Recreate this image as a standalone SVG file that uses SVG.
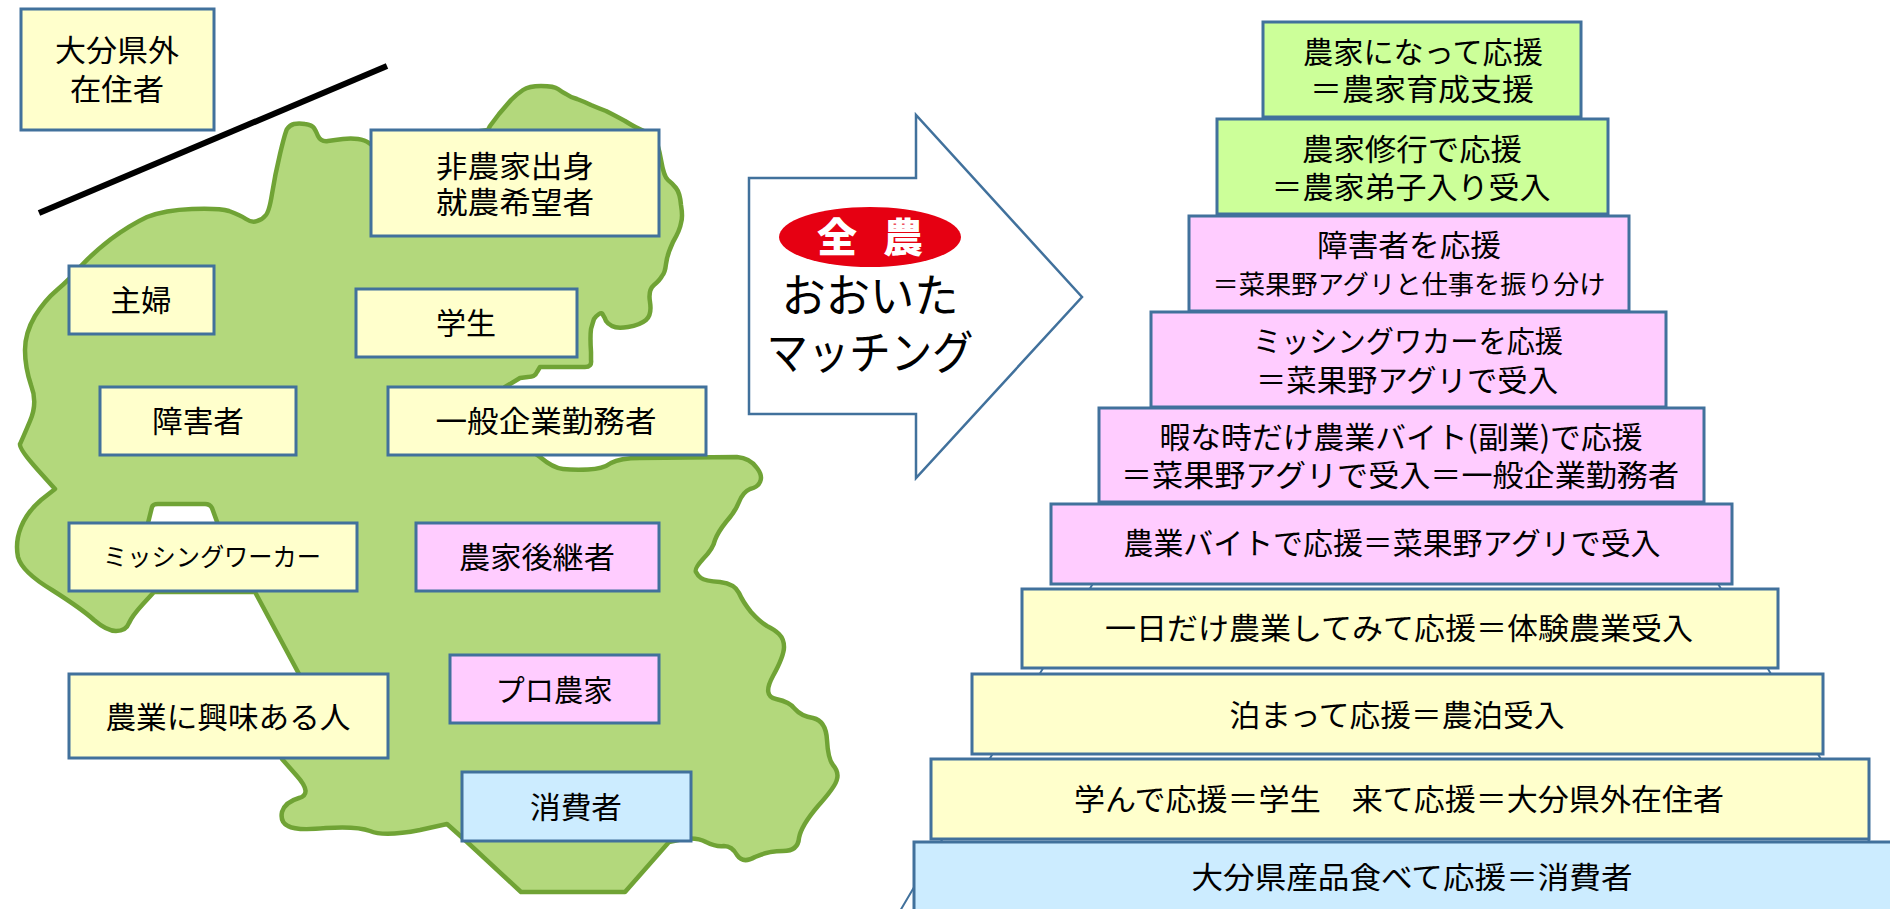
<svg xmlns="http://www.w3.org/2000/svg" width="1890" height="909" viewBox="0 0 1890 909">
<style>
.b{stroke:#41719c;stroke-width:3}
.y{fill:#ffffcc}.p{fill:#ffccff}.c{fill:#ccecff}.g{fill:#ccff99}
text{font-family:"Noto Sans CJK JP","Liberation Sans",sans-serif;font-size:30px;fill:#000;text-anchor:middle}
.w{fill:#fff;font-size:40px;font-weight:900}
.l{font-size:46px}
.m{fill:#b3d87c;stroke:#6fa336;stroke-width:4.5;stroke-linejoin:round;fill-rule:evenodd}
</style>
<defs><filter id="soft" x="-2%" y="-2%" width="104%" height="104%"><feGaussianBlur stdDeviation="0.7"/></filter></defs>
<rect width="1890" height="909" fill="#fff"/>
<path id="map" class="m" filter="url(#soft)" d="M294 124Q299 123 305 124Q312 125 314 128Q316 131 318 136Q321 142 328 141Q335 140 343 139Q351 138 358 139Q365 140 369 143L373 146L488 130L490 126Q493 122 499 114Q505 107 511 100Q517 94 523 90Q529 86 541 86Q554 86 558 89Q562 92 566 94Q570 97 577 99Q585 102 591 105Q598 108 606 111Q614 115 625 121Q636 128 644 131Q652 135 655 139Q658 143 661 160Q664 177 668 180Q672 183 676 188Q680 193 681 205Q683 217 681 223Q680 230 673 242Q667 255 666 264Q665 273 662 276Q660 280 654 285Q648 290 650 302Q652 315 646 320Q640 325 628 327Q617 329 612 326Q608 324 606 321Q605 318 603 315Q602 312 599 314Q596 316 594 319Q593 322 591 329Q590 337 591 352L591 360Q592 367 585 367L540 367L537 372Q535 377 528 377L520 378L505 387L530 450L540 457Q553 468 563 469Q573 470 588 469.5Q603 469 611 463Q620 458 640 458L737 457Q750 458 757 468Q763 476 760 482Q758 487 750 489Q743 492 739 502Q735 512 726 522Q718 532 715 540Q713 549 703 559Q694 569 696 572Q698 576 701 578Q705 581 720 582Q735 584 739 593Q743 602 751 612Q760 622 767 626Q775 630 779 634Q784 639 784 647Q784 656 773 676Q762 696 776 699Q790 702 795 709Q801 716 813 718Q826 721 827 740Q828 759 833 765Q839 772 837 779Q836 786 818 806Q801 826 799 838Q798 851 783 851Q768 851 755 857Q743 864 737 855Q732 846 724 846Q716 847 706 842Q697 837 683 839L669 842L625 892L521 892L466 841L447 824L420 830Q384 837 370 831Q357 826 326 828Q296 831 288 826Q280 822 282 812Q285 802 299 798Q313 794 297 776L282 759L299 674L255 592L154 592L143 604Q132 616 129 623Q126 631 116 631Q107 631 94 620Q82 609 52 590Q22 572 18 557Q15 542 21 527Q27 512 41 500L55 489L37 469Q19 449 20 444Q22 440 30 421Q38 403 31 385Q25 367 25 350Q25 333 35 316Q45 300 57 290Q69 280 81 266Q93 253 111 239Q130 225 147 217Q165 210 192 209Q219 208 229 211Q240 215 246 219Q252 223 257 221Q262 220 265 216Q269 213 272 194Q275 175 280 154Q285 133 287 129Q290 125 294 124Z M148 523L152 507Q153 504 158 504L205 504Q210 504 212 508L220 530Z"/>
<g id="connectors">
<line x1="39" y1="213" x2="387" y2="66" stroke="#000" stroke-width="6"/>
<polygon id="pyramid-outline" points="1406,52 880,945 1930,945" fill="#fff" stroke="#41719c" stroke-width="2"/>
</g>
<g id="arrow">
<polygon points="749,178 916,178 916,115 1082,297 916,478 916,414 749,414" fill="#fff" stroke="#41719c" stroke-width="2.5"/>
<ellipse cx="870" cy="237" rx="91" ry="30" fill="#e60012"/>
<text class="w" x="837" y="252">全</text>
<text class="w" x="903" y="252">農</text>
<text class="l" x="870" y="312" textLength="177" lengthAdjust="spacingAndGlyphs">おおいた</text>
<text class="l" x="870" y="369" textLength="207" lengthAdjust="spacingAndGlyphs">マッチング</text>
</g>
<g id="n-kengai"><rect class="b y" x="21" y="9" width="193" height="121"/><text x="117" y="61" textLength="124" lengthAdjust="spacingAndGlyphs">大分県外</text><text x="117" y="100" textLength="94" lengthAdjust="spacingAndGlyphs">在住者</text></g>
<g id="n-hinouka"><rect class="b y" x="371" y="130" width="288" height="106"/><text x="515" y="177" textLength="158" lengthAdjust="spacingAndGlyphs">非農家出身</text><text x="515" y="213" textLength="158" lengthAdjust="spacingAndGlyphs">就農希望者</text></g>
<g id="n-shufu"><rect class="b y" x="69" y="266" width="145" height="68"/><text x="141" y="311" textLength="61" lengthAdjust="spacingAndGlyphs">主婦</text></g>
<g id="n-gakusei"><rect class="b y" x="356" y="289" width="221" height="68"/><text x="466" y="334" textLength="60" lengthAdjust="spacingAndGlyphs">学生</text></g>
<g id="n-shogai"><rect class="b y" x="100" y="387" width="196" height="68"/><text x="198" y="432" textLength="92" lengthAdjust="spacingAndGlyphs">障害者</text></g>
<g id="n-kigyo"><rect class="b y" x="388" y="387" width="318" height="68"/><text x="546" y="432" textLength="221" lengthAdjust="spacingAndGlyphs">一般企業勤務者</text></g>
<g id="n-missing"><rect class="b y" x="69" y="523" width="288" height="68"/><text x="212" y="566" style="font-size:25px" textLength="218" lengthAdjust="spacingAndGlyphs">ミッシングワーカー</text></g>
<g id="n-kokeisha"><rect class="b p" x="416" y="523" width="243" height="68"/><text x="537" y="568" textLength="156" lengthAdjust="spacingAndGlyphs">農家後継者</text></g>
<g id="n-pro"><rect class="b p" x="450" y="655" width="209" height="68"/><text x="554" y="701" textLength="117" lengthAdjust="spacingAndGlyphs">プロ農家</text></g>
<g id="n-kyomi"><rect class="b y" x="69" y="674" width="319" height="84"/><text x="228" y="728" textLength="245" lengthAdjust="spacingAndGlyphs">農業に興味ある人</text></g>
<g id="n-shohisha"><rect class="b c" x="462" y="772" width="229" height="69"/><text x="576" y="818" textLength="92" lengthAdjust="spacingAndGlyphs">消費者</text></g>
<g id="p-ikusei"><rect class="b g" x="1263" y="22" width="318" height="95"/><text x="1423" y="63" textLength="240" lengthAdjust="spacingAndGlyphs">農家になって応援</text><text x="1422" y="100" textLength="224" lengthAdjust="spacingAndGlyphs">＝農家育成支援</text></g>
<g id="p-deshi"><rect class="b g" x="1217" y="119" width="391" height="95"/><text x="1412" y="160" textLength="220" lengthAdjust="spacingAndGlyphs">農家修行で応援</text><text x="1411" y="198" textLength="279" lengthAdjust="spacingAndGlyphs">＝農家弟子入り受入</text></g>
<g id="p-shogai"><rect class="b p" x="1189" y="216" width="440" height="95"/><text x="1409" y="256" textLength="184" lengthAdjust="spacingAndGlyphs">障害者を応援</text><text x="1409" y="294" style="font-size:26px" textLength="393" lengthAdjust="spacingAndGlyphs">＝菜果野アグリと仕事を振り分け</text></g>
<g id="p-missing"><rect class="b p" x="1151" y="312" width="515" height="95"/><text x="1408" y="352" textLength="310" lengthAdjust="spacingAndGlyphs">ミッシングワカーを応援</text><text x="1407" y="391" textLength="302" lengthAdjust="spacingAndGlyphs">＝菜果野アグリで受入</text></g>
<g id="p-fukugyo"><rect class="b p" x="1099" y="408" width="605" height="94"/><text x="1401" y="448" textLength="483" lengthAdjust="spacingAndGlyphs">暇な時だけ農業バイト(副業)で応援</text><text x="1400" y="486" textLength="558" lengthAdjust="spacingAndGlyphs">＝菜果野アグリで受入＝一般企業勤務者</text></g>
<g id="p-baito"><rect class="b p" x="1051" y="504" width="681" height="80"/><text x="1392" y="554" textLength="537" lengthAdjust="spacingAndGlyphs">農業バイトで応援＝菜果野アグリで受入</text></g>
<g id="p-taiken"><rect class="b y" x="1022" y="589" width="756" height="79"/><text x="1399" y="639" textLength="588" lengthAdjust="spacingAndGlyphs">一日だけ農業してみて応援＝体験農業受入</text></g>
<g id="p-nohaku"><rect class="b y" x="972" y="674" width="851" height="80"/><text x="1397" y="726" textLength="335" lengthAdjust="spacingAndGlyphs">泊まって応援＝農泊受入</text></g>
<g id="p-manabi"><rect class="b y" x="931" y="759" width="938" height="80"/><text x="1399" y="810" textLength="650" lengthAdjust="spacingAndGlyphs">学んで応援＝学生　来て応援＝大分県外在住者</text></g>
<g id="p-taberu"><rect class="b c" x="914" y="842" width="990" height="80"/><text x="1412" y="888" textLength="441" lengthAdjust="spacingAndGlyphs">大分県産品食べて応援＝消費者</text></g>
</svg>
